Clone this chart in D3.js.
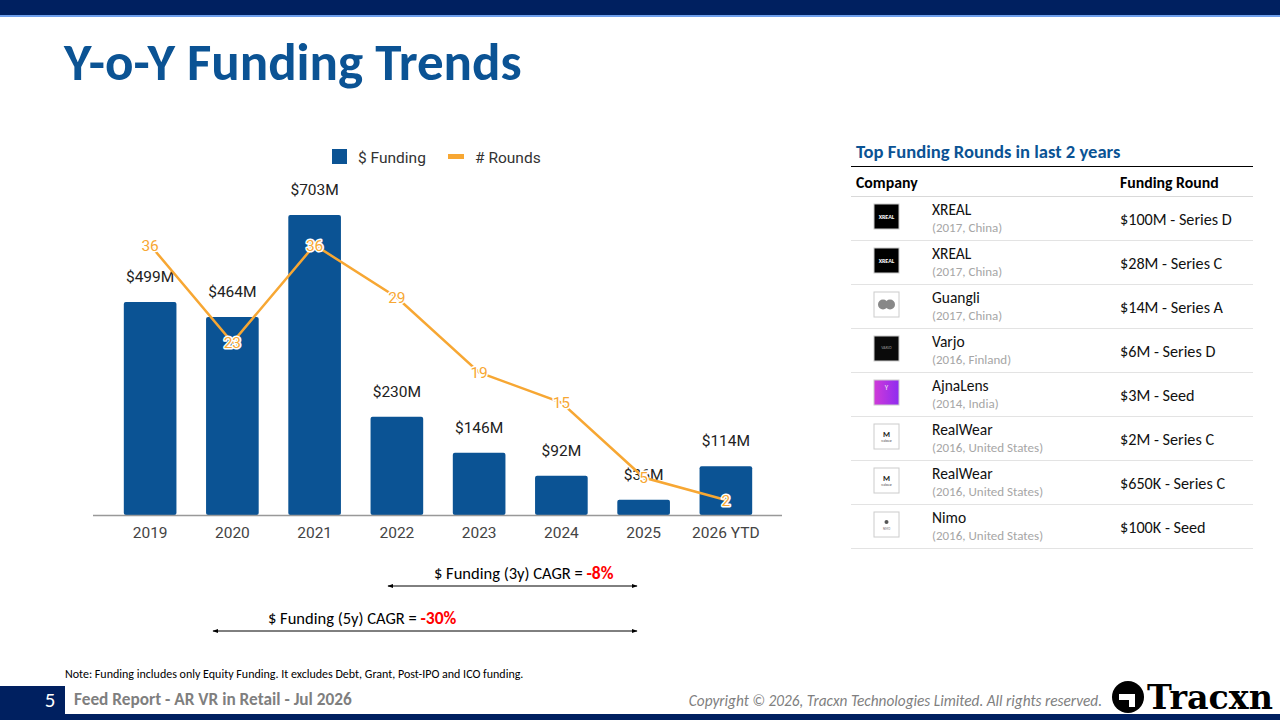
<!DOCTYPE html>
<html>
<head>
<meta charset="utf-8">
<script src="https://cdn.jsdelivr.net/npm/d3@7"></script>
<style>
  body { margin: 0; background: #fff; }
  svg { display: block; }
  .cal { font-family: Carlito, "Liberation Sans Narrow", "Open Sans", sans-serif; }
  .rob { font-family: Roboto, "Noto Sans", sans-serif; }
</style>
</head>
<body>
<script>
// chart data
var years = ["2019", "2020", "2021", "2022", "2023", "2024", "2025", "2026 YTD"];
var funding = [499, 464, 703, 230, 146, 92, 36, 114];
var rounds = [36, 23, 36, 29, 19, 15, 5, 2];

// table data
var companies = ["XREAL", "XREAL", "Guangli", "Varjo", "AjnaLens", "RealWear", "RealWear", "Nimo"];
var companyInfo = ["(2017, China)", "(2017, China)", "(2017, China)", "(2016, Finland)",
                   "(2014, India)", "(2016, United States)", "(2016, United States)", "(2016, United States)"];
var roundLabels = ["$100M - Series D", "$28M - Series C", "$14M - Series A", "$6M - Series D",
                   "$3M - Seed", "$2M - Series C", "$650K - Series C", "$100K - Seed"];
var logoKinds = ["xreal", "xreal", "guangli", "varjo", "ajna", "realwear", "realwear", "nimo"];

var cagrLabels = ["$ Funding (3y) CAGR = ", "$ Funding (5y) CAGR = "];
var cagrValues = ["-8%", "-30%"];

var navy = "#002060", blue = "#0b5394", orange = "#f7a733";

var svg = d3.select("body").append("svg")
    .attr("width", 1280)
    .attr("height", 720);

// header bar
svg.append("rect").attr("x", 0).attr("y", 0).attr("width", 1280).attr("height", 15).attr("fill", navy);
svg.append("rect").attr("x", 0).attr("y", 15).attr("width", 1280).attr("height", 2).attr("fill", "#6d9eeb");

svg.append("text")
    .attr("class", "cal")
    .attr("x", 64).attr("y", 80)
    .attr("font-size", "53px").attr("font-weight", "bold")
    .attr("fill", blue)
    .text("Y-o-Y Funding Trends");

// scales
var x = d3.scaleBand().domain(years).range([109, 767]).paddingInner(0.36).paddingOuter(0.18);
var yFund = d3.scaleLinear().domain([0, 703]).range([515, 215]);
var yRounds = d3.scaleLinear().domain([0, 40]).range([515, 215]);

var chart = svg.append("g");

// bars
chart.selectAll(".bar")
    .data(funding)
  .enter().append("rect")
    .attr("class", "bar")
    .attr("x", function(d, i) { return x(years[i]); })
    .attr("y", function(d) { return yFund(d); })
    .attr("width", x.bandwidth())
    .attr("height", function(d) { return yFund(0) - yFund(d); })
    .attr("rx", 2)
    .attr("fill", blue);

// bar labels
chart.selectAll(".blabel")
    .data(funding)
  .enter().append("text")
    .attr("class", "blabel rob")
    .attr("x", function(d, i) { return x(years[i]) + x.bandwidth() / 2; })
    .attr("y", function(d) { return yFund(d) - 20; })
    .attr("text-anchor", "middle")
    .attr("font-size", "15.5px")
    .attr("fill", "#222")
    .text(function(d) { return "$" + d + "M"; });

// x axis
var xAxis = d3.axisBottom(x).tickSize(0).tickPadding(12);
var gx = chart.append("g")
    .attr("transform", "translate(0," + yFund(0) + ")")
    .call(xAxis);
gx.select(".domain").remove();
gx.selectAll("text")
    .attr("class", "rob")
    .attr("font-size", "15.5px")
    .attr("fill", "#444");
chart.append("line")
    .attr("x1", 93).attr("x2", 782)
    .attr("y1", yFund(0) + 0.5).attr("y2", yFund(0) + 0.5)
    .attr("stroke", "#999").attr("stroke-width", 1.5);

// rounds line
var line = d3.line()
    .x(function(d, i) { return x(years[i]) + x.bandwidth() / 2; })
    .y(function(d) { return yRounds(d); });

chart.append("path")
    .datum(rounds)
    .attr("d", line)
    .attr("fill", "none")
    .attr("stroke", orange)
    .attr("stroke-width", 2.5);

chart.selectAll(".rlabel")
    .data(rounds)
  .enter().append("text")
    .attr("class", "rlabel rob")
    .attr("x", function(d, i) { return x(years[i]) + x.bandwidth() / 2; })
    .attr("y", function(d) { return yRounds(d); })
    .attr("dy", "0.36em")
    .attr("text-anchor", "middle")
    .attr("font-size", "15.5px")
    .attr("fill", orange)
    .attr("stroke", "#fff")
    .attr("stroke-width", 3)
    .attr("stroke-linejoin", "round")
    .attr("paint-order", "stroke")
    .text(function(d) { return d; });

// legend
var legend = svg.append("g").attr("class", "rob").attr("font-size", "15.5px").attr("fill", "#333");
legend.append("rect").attr("x", 332).attr("y", 149).attr("width", 15).attr("height", 15).attr("fill", blue);
legend.append("text").attr("x", 358).attr("y", 163).text("$ Funding");
legend.append("rect").attr("x", 448).attr("y", 154).attr("width", 16).attr("height", 5).attr("fill", orange);
legend.append("text").attr("x", 475).attr("y", 163).text("# Rounds");

// CAGR annotations
var defs = svg.append("defs");
defs.append("marker")
    .attr("id", "ah")
    .attr("viewBox", "0 0 10 10")
    .attr("refX", 9).attr("refY", 5)
    .attr("markerWidth", 6).attr("markerHeight", 6)
    .attr("orient", "auto-start-reverse")
  .append("path")
    .attr("d", "M0,1.5 L10,5 L0,8.5 z")
    .attr("fill", "#000");

var cagrPos = [{tx: 434, ty: 579, x1: 388, x2: 637, ly: 586},
               {tx: 268, ty: 624, x1: 213, x2: 637, ly: 631}];
cagrLabels.forEach(function(lbl, i) {
  var p = cagrPos[i];
  var t = svg.append("text").attr("class", "cal")
      .attr("x", p.tx).attr("y", p.ty)
      .attr("font-size", "16.5px").attr("fill", "#000");
  t.append("tspan").text(lbl);
  t.append("tspan").attr("font-weight", "bold").attr("fill", "#ff0000").attr("font-size", "17.5px").text(cagrValues[i]);
  svg.append("line")
      .attr("x1", p.x1).attr("x2", p.x2)
      .attr("y1", p.ly).attr("y2", p.ly)
      .attr("stroke", "#000").attr("stroke-width", 1)
      .attr("marker-start", "url(#ah)")
      .attr("marker-end", "url(#ah)");
});

// table
var table = svg.append("g").attr("class", "cal");
table.append("text")
    .attr("x", 856).attr("y", 158)
    .attr("font-size", "18.6px").attr("font-weight", "bold").attr("fill", blue)
    .text("Top Funding Rounds in last 2 years");
table.append("line").attr("x1", 851).attr("x2", 1253).attr("y1", 166.5).attr("y2", 166.5)
    .attr("stroke", "#000").attr("stroke-width", 1);
table.append("text").attr("x", 856).attr("y", 188)
    .attr("font-size", "15.8px").attr("font-weight", "bold").attr("fill", "#000").text("Company");
table.append("text").attr("x", 1120).attr("y", 188)
    .attr("font-size", "15.8px").attr("font-weight", "bold").attr("fill", "#000").text("Funding Round");
table.append("line").attr("x1", 851).attr("x2", 1253).attr("y1", 196.5).attr("y2", 196.5)
    .attr("stroke", "#d9d9d9").attr("stroke-width", 1);

var rowH = 44, row0 = 197;
var rows = table.selectAll(".row")
    .data(companies)
  .enter().append("g")
    .attr("class", "row")
    .attr("transform", function(d, i) { return "translate(0," + (row0 + i * rowH) + ")"; });

rows.append("line").attr("x1", 851).attr("x2", 1253).attr("y1", rowH - 0.5).attr("y2", rowH - 0.5)
    .attr("stroke", "#e3e3e3");
rows.append("text").attr("x", 932).attr("y", 18)
    .attr("font-size", "15.5px").attr("fill", "#111").text(function(d) { return d; });
rows.append("text").attr("x", 932).attr("y", 34.5)
    .attr("font-size", "13px").attr("fill", "#a6a6a6").text(function(d, i) { return companyInfo[i]; });
rows.append("text").attr("x", 1120).attr("y", 27.5)
    .attr("font-size", "16.2px").attr("fill", "#111").text(function(d, i) { return roundLabels[i]; });

// logos
rows.each(function(d, i) {
  var g = d3.select(this).append("g").attr("transform", "translate(874,7)");
  var kind = logoKinds[i];
  if (kind === "xreal") {
    g.append("rect").attr("width", 25).attr("height", 25).attr("fill", "#000").attr("stroke", "#ccc");
    g.append("text").attr("x", 12.5).attr("y", 15).attr("text-anchor", "middle")
        .attr("font-size", "6px").attr("font-weight", "bold").attr("fill", "#fff").text("XREAL");
  } else if (kind === "guangli") {
    g.append("rect").attr("width", 25).attr("height", 25).attr("fill", "#fff").attr("stroke", "#ccc");
    g.append("circle").attr("cx", 9).attr("cy", 12.5).attr("r", 5).attr("fill", "#888");
    g.append("circle").attr("cx", 16).attr("cy", 12.5).attr("r", 5).attr("fill", "#888");
  } else if (kind === "varjo") {
    g.append("rect").attr("width", 25).attr("height", 25).attr("fill", "#0a0a0a").attr("stroke", "#ccc");
    g.append("text").attr("x", 12.5).attr("y", 13).attr("text-anchor", "middle")
        .attr("font-size", "4px").attr("fill", "#999").text("VARJO");
  } else if (kind === "ajna") {
    var grad = defs.append("linearGradient").attr("id", "ajna" + i).attr("x1", 0).attr("x2", 1);
    grad.append("stop").attr("offset", "0%").attr("stop-color", "#d03ad8");
    grad.append("stop").attr("offset", "100%").attr("stop-color", "#8e2cf0");
    g.append("rect").attr("width", 25).attr("height", 25).attr("fill", "url(#ajna" + i + ")").attr("stroke", "#ccc");
    g.append("text").attr("x", 12.5).attr("y", 10).attr("text-anchor", "middle")
        .attr("font-size", "7px").attr("fill", "#eee").text("Y");
  } else if (kind === "realwear") {
    g.append("rect").attr("width", 25).attr("height", 25).attr("fill", "#fff").attr("stroke", "#ccc");
    g.append("text").attr("x", 12.5).attr("y", 13).attr("text-anchor", "middle")
        .attr("font-size", "8px").attr("font-weight", "bold").attr("fill", "#222").text("M");
    g.append("text").attr("x", 12.5).attr("y", 18).attr("text-anchor", "middle")
        .attr("font-size", "3px").attr("fill", "#444").text("realwear");
  } else {
    g.append("rect").attr("width", 25).attr("height", 25).attr("fill", "#fff").attr("stroke", "#ccc");
    g.append("circle").attr("cx", 12.5).attr("cy", 10).attr("r", 2).attr("fill", "#555");
    g.append("text").attr("x", 12.5).attr("y", 18).attr("text-anchor", "middle")
        .attr("font-size", "3px").attr("fill", "#777").text("NIMO");
  }
});

// note + footer
svg.append("text").attr("class", "cal")
    .attr("x", 65).attr("y", 678)
    .attr("font-size", "12px").attr("fill", "#000")
    .text("Note: Funding includes only Equity Funding. It excludes Debt, Grant, Post-IPO and ICO funding.");

svg.append("rect").attr("x", 0).attr("y", 686).attr("width", 65).attr("height", 34).attr("fill", navy);
svg.append("rect").attr("x", 0).attr("y", 714).attr("width", 1280).attr("height", 6).attr("fill", navy);
svg.append("text").attr("class", "cal")
    .attr("x", 50).attr("y", 707).attr("text-anchor", "middle")
    .attr("font-size", "21px").attr("fill", "#fff").text("5");
svg.append("text").attr("class", "cal")
    .attr("x", 74).attr("y", 705)
    .attr("font-size", "17.3px").attr("font-weight", "bold").attr("fill", "#7f7f7f")
    .text("Feed Report - AR VR in Retail - Jul 2026");
svg.append("text").attr("class", "cal")
    .attr("x", 1102).attr("y", 706).attr("text-anchor", "end")
    .attr("font-size", "15.3px").attr("font-style", "italic").attr("fill", "#7f7f7f")
    .text("Copyright \u00a9 2026, Tracxn Technologies Limited. All rights reserved.");

// tracxn logo
var lg = svg.append("g").attr("transform", "translate(1128,697)");
lg.append("circle").attr("r", 16).attr("fill", "#000");
lg.append("path").attr("d", "M-9,-3 L7,-3 L7,10 L1,10 L1,3 L-9,3 Z").attr("fill", "#fff");
svg.append("text")
    .attr("x", 1147).attr("y", 709)
    .attr("font-family", "'DejaVu Serif', 'Liberation Serif', serif")
    .attr("font-size", "33px").attr("font-weight", "bold").attr("fill", "#000")
    .attr("textLength", 126).attr("lengthAdjust", "spacingAndGlyphs")
    .text("Tracxn");
</script>
</body>
</html>
